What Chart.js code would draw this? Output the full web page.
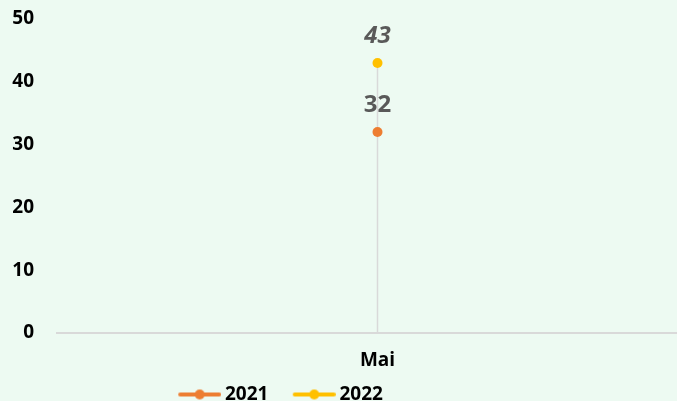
<!DOCTYPE html>
<html>
<head>
<meta charset="utf-8">
<script src="https://cdn.jsdelivr.net/npm/chart.js@4/dist/chart.umd.min.js"></script>
<style>
    html, body { margin: 0; padding: 0; background: #EDFAF2; overflow: hidden; }
    #wrap { width: 703px; height: 401px; }
</style>
</head>
<body>
<div id="wrap"><canvas id="monthChart" width="703" height="401"></canvas></div>
<script>
// 데이터
const categories = ['Mai'];
const series2021 = [32];
const series2022 = [43];
const yTicks = [0, 10, 20, 30, 40, 50];

const COLOR_2021 = '#ED7D31';
const COLOR_2022 = '#FFC000';
const FONT = '"Open Sans", "Noto Sans", sans-serif';

// 범례용 선+점 아이콘 (왼쪽은 투명, 오른쪽에 선)
function legendIcon(color) {
    const c = document.createElement('canvas');
    c.width = 69;
    c.height = 12;
    const ctx = c.getContext('2d');
    ctx.strokeStyle = color;
    ctx.lineWidth = 4;
    ctx.lineCap = 'round';
    ctx.beginPath();
    ctx.moveTo(28, 6);
    ctx.lineTo(67, 6);
    ctx.stroke();
    ctx.fillStyle = color;
    ctx.beginPath();
    ctx.arc(47.5, 6, 5, 0, Math.PI * 2);
    ctx.fill();
    return c;
}
const icons = [legendIcon(COLOR_2021), legendIcon(COLOR_2022)];

// 가장 높은 점에서 0까지 세로선
const dropLines = {
    id: 'dropLines',
    beforeDatasetsDraw(chart) {
        const ctx = chart.ctx;
        const x = chart.scales.x, y = chart.scales.y;
        categories.forEach((c, i) => {
            const top = Math.max(...chart.data.datasets.map(d => d.data[i]));
            ctx.save();
            ctx.strokeStyle = '#D9D9D9';
            ctx.lineWidth = 1.5;
            ctx.beginPath();
            ctx.moveTo(x.getPixelForValue(i), y.getPixelForValue(top));
            ctx.lineTo(x.getPixelForValue(i), y.getPixelForValue(0));
            ctx.stroke();
            ctx.restore();
        });
    }
};

// 값 라벨
const valueLabels = {
    id: 'valueLabels',
    afterDatasetsDraw(chart) {
        const ctx = chart.ctx;
        chart.data.datasets.forEach((ds, di) => {
            const meta = chart.getDatasetMeta(di);
            meta.data.forEach((pt, i) => {
                ctx.save();
                ctx.fillStyle = '#595959';
                ctx.font = (ds.labelItalic ? 'italic ' : '') + 'bold 24px ' + FONT;
                ctx.textAlign = 'center';
                ctx.textBaseline = 'middle';
                ctx.fillText(ds.data[i], pt.x, pt.y - 27);
                ctx.restore();
            });
        });
    }
};

// 범례 위치 이동
const legendShift = {
    id: 'legendShift',
    afterLayout(chart) {
        chart.legend.left += 142;
        chart.legend.right += 142;
        chart.legend.top += 13;
        chart.legend.bottom += 13;
    }
};

const chart = new Chart(document.getElementById('monthChart'), {
    type: 'line',
    plugins: [dropLines, valueLabels, legendShift],
    data: {
        labels: categories,
        datasets: [
            {
                label: '2021',
                data: series2021,
                borderColor: COLOR_2021,
                backgroundColor: COLOR_2021,
                pointRadius: 5,
                pointBorderWidth: 0,
                borderWidth: 4
            },
            {
                label: '2022',
                data: series2022,
                borderColor: COLOR_2022,
                backgroundColor: COLOR_2022,
                pointRadius: 5,
                pointBorderWidth: 0,
                borderWidth: 4,
                labelItalic: true
            }
        ]
    },
    options: {
        responsive: false,
        animation: false,
        layout: {
            padding: { top: 19, left: 12, right: 0, bottom: 0 }
        },
        plugins: {
            tooltip: { enabled: false },
            legend: {
                position: 'bottom',
                align: 'start',
                labels: {
                    usePointStyle: true,
                    pointStyleWidth: 57.5,
                    padding: 4,
                    color: '#000000',
                    font: { family: FONT, size: 19, weight: 'bold' },
                    generateLabels(chart) {
                        const items = Chart.defaults.plugins.legend.labels.generateLabels(chart);
                        items.forEach((it, i) => { it.pointStyle = icons[i]; });
                        return items;
                    }
                }
            }
        },
        scales: {
            x: {
                offset: true,
                afterFit(axis) { axis.height = 35; },
                grid: { display: false },
                border: { display: true, color: '#D9D9D9', width: 2 },
                ticks: {
                    color: '#000000',
                    padding: 8,
                    font: { family: FONT, size: 19, weight: 'bold' }
                }
            },
            y: {
                min: 0,
                max: 50,
                afterBuildTicks(axis) {
                    axis.ticks = yTicks.map(v => ({ value: v }));
                },
                afterFit(axis) {
                    axis.width = 45;
                    axis.paddingTop = 0;
                    axis.paddingBottom = 0;
                },
                grid: { display: false, drawTicks: false },
                border: { display: false },
                ticks: {
                    color: '#000000',
                    padding: 23,
                    font: { family: FONT, size: 19, weight: 'bold' }
                }
            }
        }
    }
});
</script>
</body>
</html>
